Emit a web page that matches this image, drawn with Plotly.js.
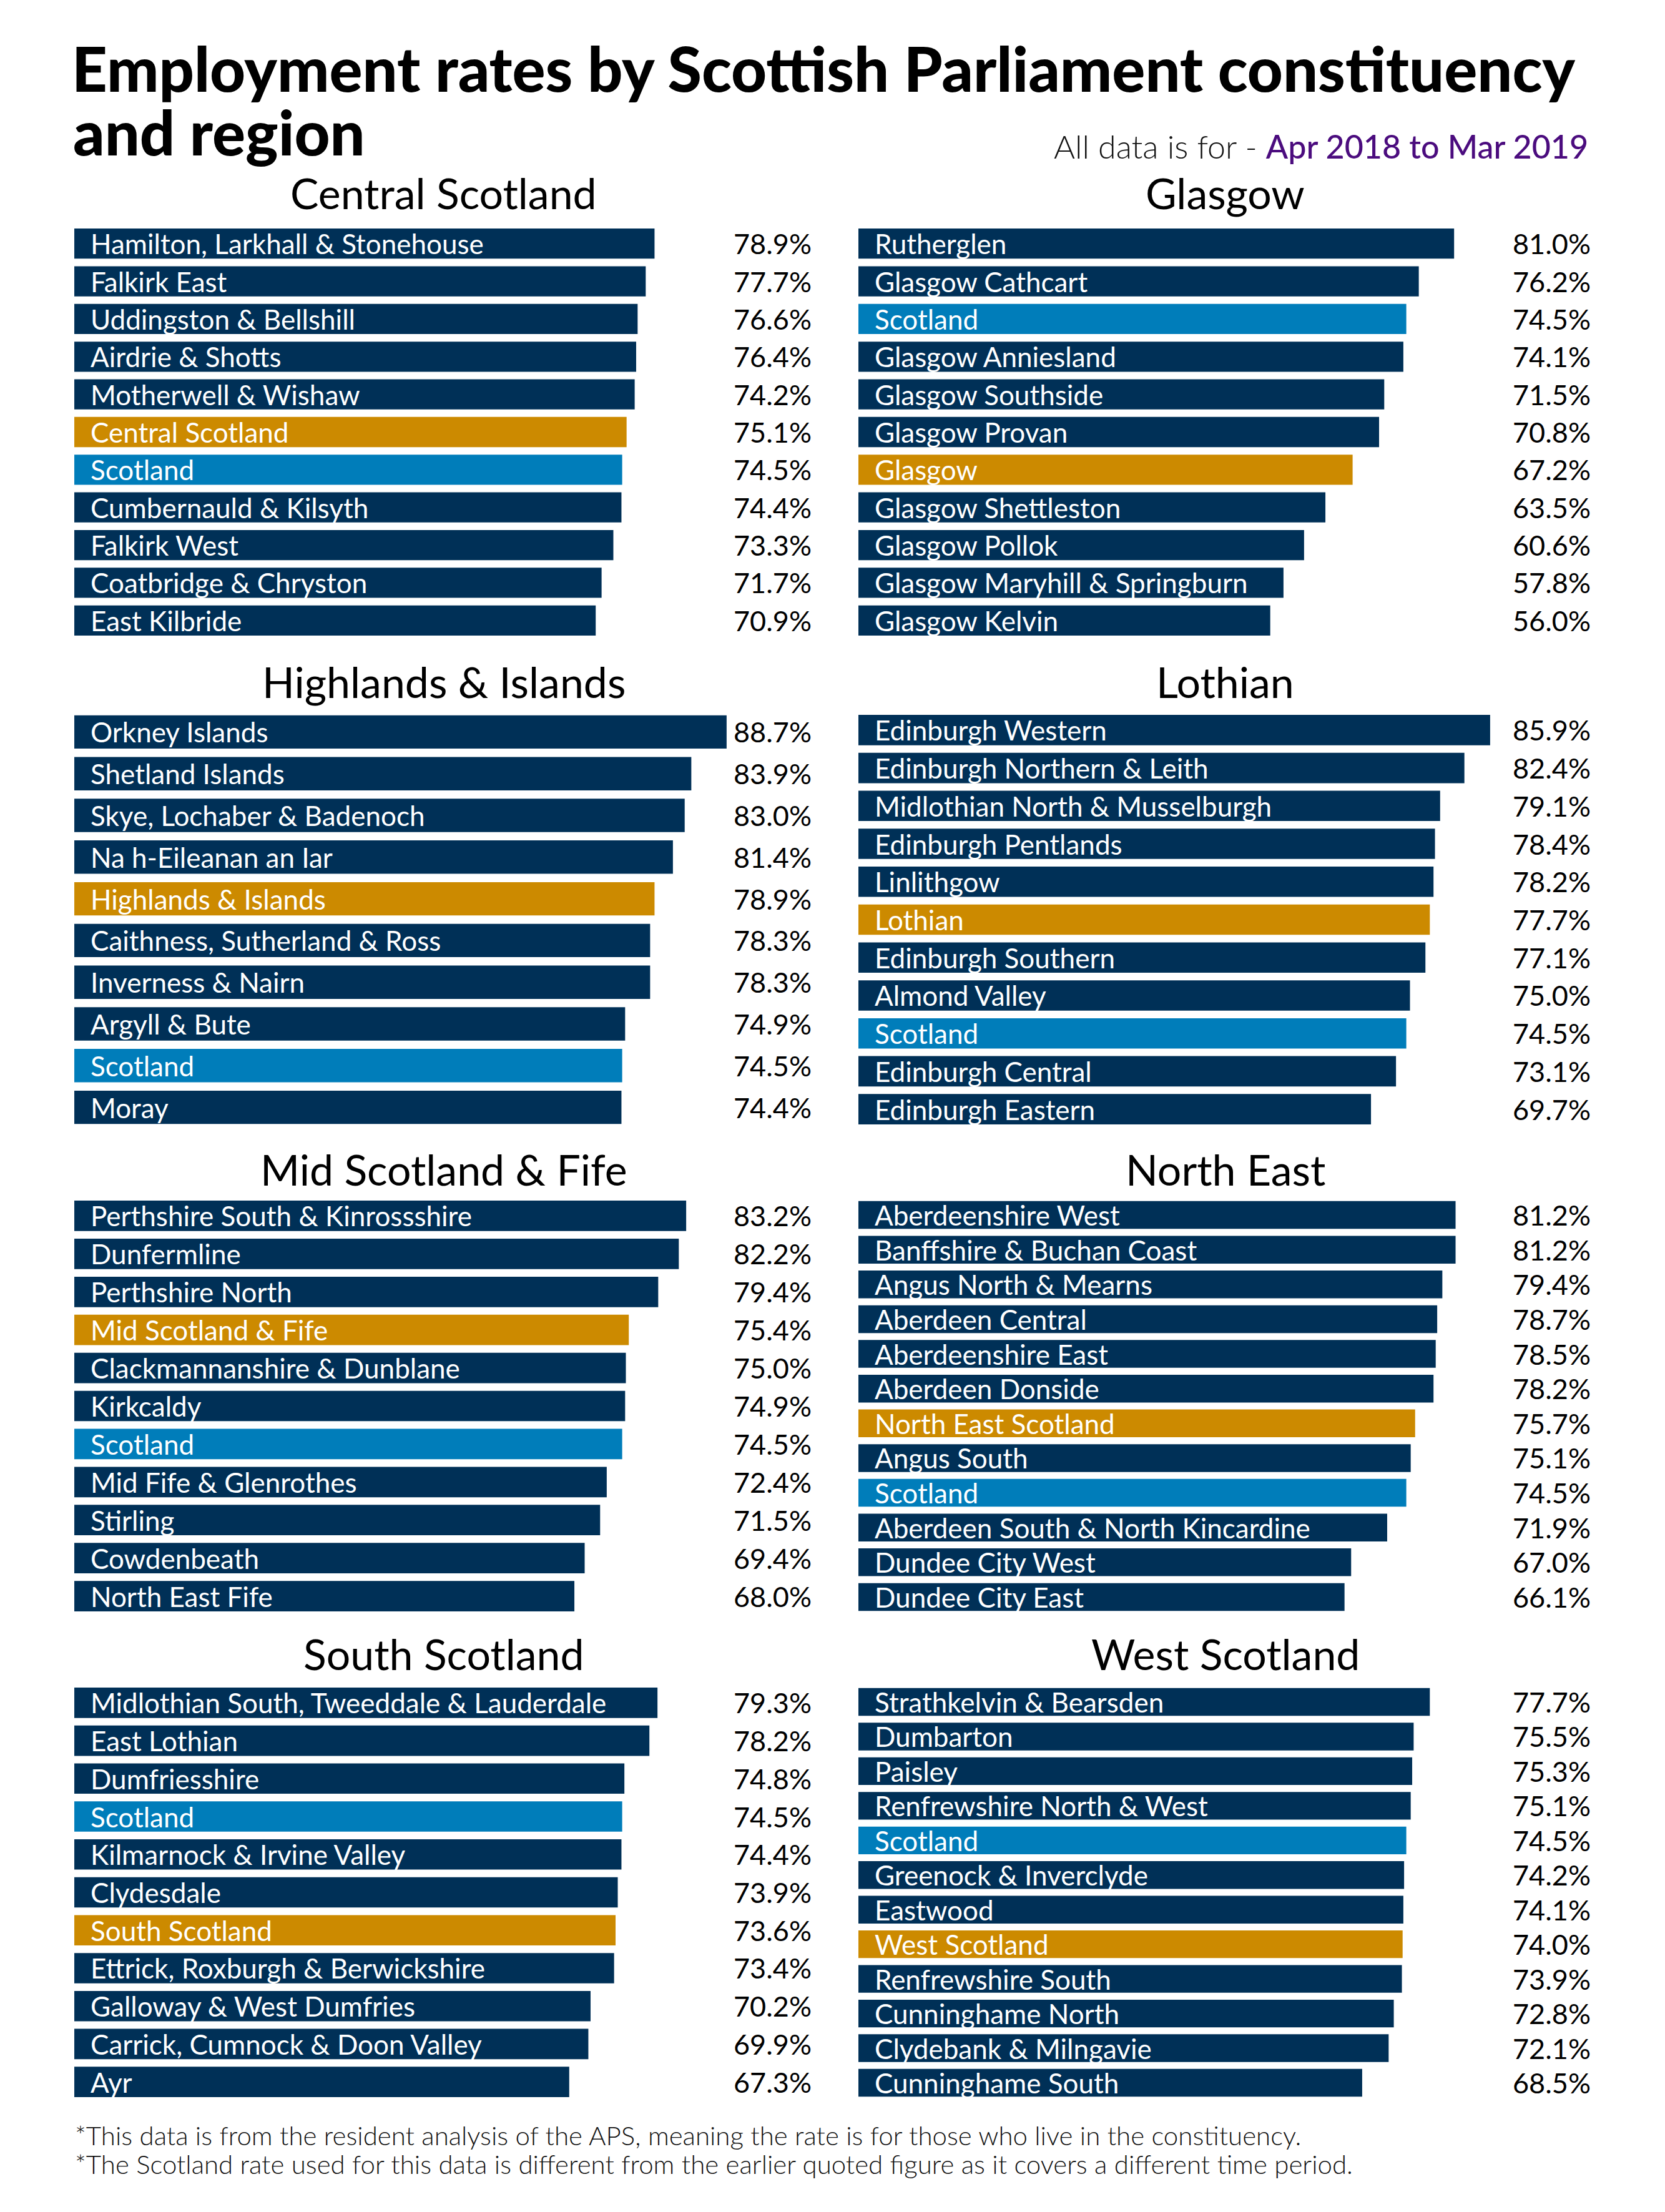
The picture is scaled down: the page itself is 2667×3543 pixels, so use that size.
<!DOCTYPE html>
<html>
<head>
<meta charset="utf-8">
<script src="https://cdn.plot.ly/plotly-3.0.1.min.js"></script>
<style>html,body{margin:0;padding:0;background:#fff;}</style>
</head>
<body>
<div id="chart" style="width:2667px;height:3543px;"></div>
<script>
// ---------------- DATA ----------------
const centralNames = ["Hamilton, Larkhall & Stonehouse","Falkirk East","Uddingston & Bellshill","Airdrie & Shotts","Motherwell & Wishaw","Central Scotland","Scotland","Cumbernauld & Kilsyth","Falkirk West","Coatbridge & Chryston","East Kilbride"];
const centralValues = [78.9,77.7,76.6,76.4,76.2,75.1,74.5,74.4,73.3,71.7,70.9];
const centralLabels = ["78.9%","77.7%","76.6%","76.4%","74.2%","75.1%","74.5%","74.4%","73.3%","71.7%","70.9%"];

const glasgowNames = ["Rutherglen","Glasgow Cathcart","Scotland","Glasgow Anniesland","Glasgow Southside","Glasgow Provan","Glasgow","Glasgow Shettleston","Glasgow Pollok","Glasgow Maryhill & Springburn","Glasgow Kelvin"];
const glasgowValues = [81.0,76.2,74.5,74.1,71.5,70.8,67.2,63.5,60.6,57.8,56.0];

const highlandsNames = ["Orkney Islands","Shetland Islands","Skye, Lochaber & Badenoch","Na h-Eileanan an Iar","Highlands & Islands","Caithness, Sutherland & Ross","Inverness & Nairn","Argyll & Bute","Scotland","Moray"];
const highlandsValues = [88.7,83.9,83.0,81.4,78.9,78.3,78.3,74.9,74.5,74.4];

const lothianNames = ["Edinburgh Western","Edinburgh Northern & Leith","Midlothian North & Musselburgh","Edinburgh Pentlands","Linlithgow","Lothian","Edinburgh Southern","Almond Valley","Scotland","Edinburgh Central","Edinburgh Eastern"];
const lothianValues = [85.9,82.4,79.1,78.4,78.2,77.7,77.1,75.0,74.5,73.1,69.7];

const midNames = ["Perthshire South & Kinrossshire","Dunfermline","Perthshire North","Mid Scotland & Fife","Clackmannanshire & Dunblane","Kirkcaldy","Scotland","Mid Fife & Glenrothes","Stirling","Cowdenbeath","North East Fife"];
const midValues = [83.2,82.2,79.4,75.4,75.0,74.9,74.5,72.4,71.5,69.4,68.0];

const northEastNames = ["Aberdeenshire West","Banffshire & Buchan Coast","Angus North & Mearns","Aberdeen Central","Aberdeenshire East","Aberdeen Donside","North East Scotland","Angus South","Scotland","Aberdeen South & North Kincardine","Dundee City West","Dundee City East"];
const northEastValues = [81.2,81.2,79.4,78.7,78.5,78.2,75.7,75.1,74.5,71.9,67.0,66.1];

const southNames = ["Midlothian South, Tweeddale & Lauderdale","East Lothian","Dumfriesshire","Scotland","Kilmarnock & Irvine Valley","Clydesdale","South Scotland","Ettrick, Roxburgh & Berwickshire","Galloway & West Dumfries","Carrick, Cumnock & Doon Valley","Ayr"];
const southValues = [79.3,78.2,74.8,74.5,74.4,73.9,73.6,73.4,70.2,69.9,67.3];

const westNames = ["Strathkelvin & Bearsden","Dumbarton","Paisley","Renfrewshire North & West","Scotland","Greenock & Inverclyde","Eastwood","West Scotland","Renfrewshire South","Cunninghame North","Clydebank & Milngavie","Cunninghame South"];
const westValues = [77.7,75.5,75.3,75.1,74.5,74.2,74.1,74.0,73.9,72.8,72.1,68.5];

const regionNames = ["Central Scotland","Glasgow","Highlands & Islands","Lothian","Mid Scotland & Fife","North East Scotland","South Scotland","West Scotland"];
const panelTitles = ["Central Scotland","Glasgow","Highlands & Islands","Lothian","Mid Scotland & Fife","North East","South Scotland","West Scotland"];

// ---------------- LAYOUT ----------------
const W = 2667, H = 3543;
const NAVY = '#003057', GOLD = '#CC8A00', BLUE = '#007DBA', PURPLE = '#4B0C7E';
const FONT = 'Lato, "Noto Sans", sans-serif';
const PX_PER_PCT = 11.78;

const colPx = [[119, 1302], [1375, 2550]];
const rowPx = [[360, 1024], [1139, 1807], [1917, 2587], [2697, 3365]];
const titlePx = [308, 1091, 1872, 2648];

const panels = [
  {names: centralNames, values: centralValues, labels: centralLabels},
  {names: glasgowNames, values: glasgowValues},
  {names: highlandsNames, values: highlandsValues},
  {names: lothianNames, values: lothianValues},
  {names: midNames, values: midValues},
  {names: northEastNames, values: northEastValues},
  {names: southNames, values: southValues},
  {names: westNames, values: westValues}
];

const colorFor = n => n === 'Scotland' ? BLUE : (regionNames.includes(n) ? GOLD : NAVY);
const py = px => 1 - px / H;
const pxx = px => px / W;

const data = [];
const annotations = [];
const layout = {
  width: W, height: H,
  margin: {l: 0, r: 0, t: 0, b: 0},
  paper_bgcolor: '#fff', plot_bgcolor: '#fff',
  showlegend: false,
  bargap: 0.2,
  font: {family: FONT, color: '#000'},
  title: {
    text: 'Employment rates by Scottish Parliament constituency',
    x: pxx(115), xanchor: 'left', xref: 'container',
    y: py(112), yanchor: 'middle', yref: 'container',
    font: {family: FONT, size: 99, weight: 900, color: '#000'}
  },
  annotations: annotations
};

annotations.push({
  text: 'and region', xref: 'paper', yref: 'paper',
  x: pxx(115), xanchor: 'left', y: py(211), yanchor: 'middle',
  showarrow: false, font: {family: FONT, size: 99, weight: 900, color: '#000'}
});
annotations.push({
  text: 'All data is for - <span style="color:' + PURPLE + ';font-weight:500">Apr 2018 to Mar 2019</span>',
  xref: 'paper', yref: 'paper', x: pxx(2546), xanchor: 'right', y: py(234), yanchor: 'middle',
  showarrow: false, font: {family: FONT, size: 52, weight: 300, color: '#111'}
});
annotations.push({
  text: '*This data is from the resident analysis of the APS, meaning the rate is for those who live in the constituency.',
  xref: 'paper', yref: 'paper', x: pxx(118), xanchor: 'left', y: py(3420), yanchor: 'middle',
  showarrow: false, font: {family: FONT, size: 42, weight: 300, color: '#111'}
});
annotations.push({
  text: '*The Scotland rate used for this data is different from the earlier quoted figure as it covers a different time period.',
  xref: 'paper', yref: 'paper', x: pxx(118), xanchor: 'left', y: py(3466), yanchor: 'middle',
  showarrow: false, font: {family: FONT, size: 42, weight: 300, color: '#111'}
});

panels.forEach((p, i) => {
  const k = i + 1;
  const col = i % 2, row = Math.floor(i / 2);
  const xa = 'xaxis' + (k === 1 ? '' : k), ya = 'yaxis' + (k === 1 ? '' : k);
  const xr = 'x' + (k === 1 ? '' : k), yr = 'y' + (k === 1 ? '' : k);
  const [x0, x1] = colPx[col];
  const [t, b] = rowPx[row];
  layout[xa] = {
    domain: [pxx(x0), pxx(x1)], range: [0, (x1 - x0) / PX_PER_PCT],
    showgrid: false, zeroline: false, showticklabels: false, showline: false, ticks: '',
    fixedrange: true, anchor: yr
  };
  layout[ya] = {
    domain: [py(b), py(t)], type: 'category', autorange: 'reversed',
    showgrid: false, zeroline: false, showticklabels: false, showline: false, ticks: '',
    fixedrange: true, anchor: xr
  };
  data.push({
    type: 'bar', orientation: 'h',
    x: p.values, y: p.names,
    xaxis: xr, yaxis: yr,
    marker: {color: p.names.map(colorFor), line: {width: 0}},
    hoverinfo: 'skip'
  });
  annotations.push({
    text: panelTitles[i], xref: 'paper', yref: 'paper',
    x: pxx((x0 + x1) / 2), xanchor: 'center', y: py(titlePx[row]), yanchor: 'middle',
    showarrow: false, font: {family: FONT, size: 68, weight: 400, color: '#000'}
  });
  p.names.forEach((n, j) => {
    annotations.push({
      text: n, xref: xr, yref: yr, x: 0, y: n, xanchor: 'left', xshift: 24, yanchor: 'middle',
      showarrow: false, font: {family: FONT, size: 44, weight: 400, color: '#fff'}
    });
    annotations.push({
      text: p.labels ? p.labels[j] : p.values[j].toFixed(1) + '%',
      xref: xr + ' domain', yref: yr, x: 1, y: n, xanchor: 'right', yanchor: 'middle',
      showarrow: false, font: {family: FONT, size: 45, weight: 400, color: '#000'}
    });
  });
});

Plotly.newPlot('chart', data, layout, {displayModeBar: false, staticPlot: true});
</script>
</body>
</html>
